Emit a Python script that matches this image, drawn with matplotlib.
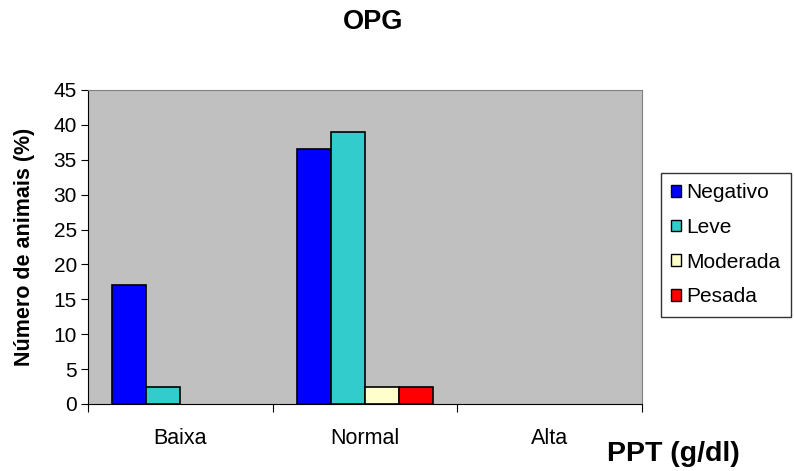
import matplotlib

matplotlib.use("Agg")
import matplotlib.pyplot as plt
import numpy as np
from matplotlib.patches import Patch

plt.rcParams["font.family"] = ["Liberation Sans", "DejaVu Sans"]

CATEGORIES = ["Baixa", "Normal", "Alta"]
SERIES = ["Negativo", "Leve", "Moderada", "Pesada"]
VALUES = {
    "Negativo": [17.1, 36.6, 0.0],
    "Leve": [2.4, 39.0, 0.0],
    "Moderada": [0.0, 2.4, 0.0],
    "Pesada": [0.0, 2.4, 0.0],
}
COLORS = {"Negativo": "#0000FF", "Leve": "#33CCCC",
          "Moderada": "#FFFFCC", "Pesada": "#FF0000"}

fig = plt.figure(figsize=(7.94, 4.71), dpi=100)
ax = fig.add_axes([0.1108, 0.1423, 0.6977, 0.6667])
ax.set_facecolor("#C0C0C0")

x = np.arange(len(CATEGORIES))
w = 0.184
for i, s in enumerate(SERIES):
    vals = VALUES[s]
    lws = [1.2 if v > 0 else 0 for v in vals]  # empty bars leave no outline
    ax.bar(x + (i - 1.5) * w, vals, width=w, color=COLORS[s],
           edgecolor="black", linewidth=lws, zorder=3)

ax.set_xlim(-0.5, 2.5)
ax.set_ylim(0, 45)
ax.set_yticks(range(0, 46, 5))
ax.tick_params(axis="y", labelsize=15, direction="out", length=5, color="black", pad=3)
ax.set_xticks([-0.5, 0.5, 1.5, 2.5])
ax.set_xticklabels([])
ax.tick_params(axis="x", direction="out", length=6, color="black")
ax.set_xticks(x, minor=True)
ax.set_xticklabels(CATEGORIES, minor=True, fontsize=15.5)
ax.tick_params(axis="x", which="minor", length=0, pad=17)

for side in ("top", "right"):
    ax.spines[side].set_color("#808080")
for side in ("left", "bottom"):
    ax.spines[side].set_color("black")

ax.set_ylabel("Número de animais (%)", fontsize=15.5, fontweight="bold")
ax.yaxis.set_label_coords(-0.095, 0.5)
fig.text(0.47, 0.953, "OPG", ha="center", va="center", fontsize=19.5, fontweight="bold")
fig.text(0.848, 0.036, "PPT (g/dl)", ha="center", va="center", fontsize=20.5, fontweight="bold")

handles = [Patch(facecolor=COLORS[s], edgecolor="black", label=s) for s in SERIES]
leg = fig.legend(handles=handles, loc="upper left", bbox_to_anchor=(0.832, 0.633),
                 fontsize=15, frameon=True, fancybox=False, handlelength=0.5,
                 handleheight=0.5, handletextpad=0.25, labelspacing=0.75,
                 borderaxespad=0, borderpad=0.5)
leg.get_frame().set_edgecolor("black")
leg.get_frame().set_linewidth(1.0)

fig.savefig("out.png", dpi=100)
